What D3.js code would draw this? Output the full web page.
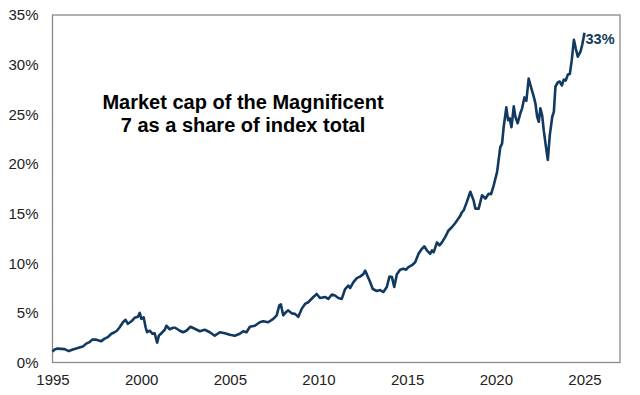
<!DOCTYPE html>
<html>
<head>
<meta charset="utf-8">
<script src="https://cdn.jsdelivr.net/npm/d3@7"></script>
<style>
  html, body { margin: 0; padding: 0; background: #fff; }
  svg { display: block; }
</style>
</head>
<body>
<svg id="chart" width="640" height="395"></svg>
<script>
// ---- Data ----
const years = [
  1995.0, 1995.11, 1995.3, 1995.68, 1995.92, 1996.15, 1996.43, 1996.71, 1996.9, 1997.09,
  1997.24, 1997.47, 1997.75, 1997.94, 1998.12, 1998.32, 1998.5, 1998.63, 1998.79, 1998.97,
  1999.12, 1999.25, 1999.45, 1999.63, 1999.82, 1999.92, 2000.01, 2000.14, 2000.25, 2000.33,
  2000.48, 2000.63, 2000.76, 2000.9, 2001.0, 2001.14, 2001.33, 2001.42, 2001.61, 2001.8,
  2001.92, 2002.18, 2002.36, 2002.55, 2002.78, 2003.02, 2003.31, 2003.59, 2003.87, 2004.15,
  2004.44, 2004.72, 2005.0, 2005.28, 2005.56, 2005.75, 2005.94, 2006.13, 2006.41, 2006.69,
  2006.88, 2007.16, 2007.45, 2007.64, 2007.79, 2007.88, 2008.01, 2008.16, 2008.29, 2008.49,
  2008.67, 2008.86, 2009.05, 2009.24, 2009.42, 2009.71, 2009.9, 2010.08, 2010.37, 2010.55,
  2010.75, 2010.93, 2011.12, 2011.31, 2011.5, 2011.68, 2011.78, 2011.97, 2012.16, 2012.34,
  2012.53, 2012.63, 2012.72, 2012.91, 2013.06, 2013.29, 2013.47, 2013.66, 2013.85, 2014.0,
  2014.14, 2014.27, 2014.42, 2014.6, 2014.79, 2014.94, 2015.07, 2015.27, 2015.45, 2015.64,
  2015.83, 2015.96, 2016.11, 2016.3, 2016.4, 2016.49, 2016.68, 2016.82, 2016.96, 2017.15,
  2017.33, 2017.53, 2017.71, 2017.81, 2017.95, 2018.09, 2018.18, 2018.37, 2018.56, 2018.75,
  2018.84, 2019.03, 2019.22, 2019.41, 2019.59, 2019.73, 2019.88, 2020.07, 2020.25, 2020.35,
  2020.44, 2020.59, 2020.69, 2020.78, 2020.88, 2021.01, 2021.1, 2021.23, 2021.38, 2021.48,
  2021.61, 2021.72, 2021.85, 2021.95, 2022.05, 2022.14, 2022.23, 2022.33, 2022.42, 2022.51,
  2022.61, 2022.7, 2022.8, 2022.93, 2023.04, 2023.18, 2023.27, 2023.36, 2023.49, 2023.6,
  2023.72, 2023.83, 2023.94, 2024.06, 2024.17, 2024.28, 2024.4, 2024.51, 2024.62, 2024.77,
  2024.87, 2025.0
];
const shares = [
  1.1, 1.3, 1.4, 1.35, 1.15, 1.3, 1.45, 1.6, 1.9, 2.05,
  2.3, 2.3, 2.15, 2.4, 2.55, 2.9, 3.05, 3.2, 3.55, 4.05,
  4.3, 3.9, 4.15, 4.5, 4.6, 5.0, 4.4, 4.55, 3.55, 3.05,
  3.2, 2.9, 2.95, 2.0, 2.7, 2.95, 3.3, 3.7, 3.35, 3.5,
  3.5, 3.2, 3.05, 3.2, 3.6, 3.4, 3.15, 3.3, 3.05, 2.7,
  3.05, 2.95, 2.8, 2.7, 2.9, 3.15, 3.05, 3.6, 3.7, 4.05,
  4.15, 4.05, 4.4, 4.75, 5.75, 5.85, 4.75, 5.07, 5.25, 4.95,
  4.9, 4.6, 5.4, 5.9, 6.07, 6.6, 6.9, 6.5, 6.6, 6.4,
  6.85, 6.75, 6.5, 6.4, 7.4, 7.75, 7.5, 8.1, 8.5, 8.65,
  8.9, 9.25, 8.9, 8.1, 7.4, 7.2, 7.3, 7.1, 7.6, 8.65,
  8.6, 7.6, 8.9, 9.35, 9.45, 9.35, 9.6, 9.8, 10.1, 10.95,
  11.45, 11.7, 11.3, 10.95, 11.3, 11.1, 12.1, 11.8, 12.1, 12.65,
  13.3, 13.65, 14.05, 14.3, 14.65, 15.15, 15.3, 16.2, 17.2, 16.3,
  15.5, 15.5, 16.85, 16.5, 17.0, 16.95, 17.85, 19.2, 21.7, 22.05,
  23.7, 25.7, 24.4, 24.6, 23.7, 25.8, 24.75, 24.1, 25.1, 25.6,
  26.7, 26.35, 28.6, 27.95, 27.3, 26.75, 26.1, 24.75, 24.25, 25.6,
  24.9, 23.4, 22.05, 20.4, 22.9, 24.75, 25.25, 27.8, 28.2, 28.3,
  27.9, 28.5, 28.4, 29.0, 29.05, 30.45, 32.5, 31.6, 30.8, 31.3,
  32.0, 33.2
];
const xTickYears = [1995, 2000, 2005, 2010, 2015, 2020, 2025];
const yTickValues = [0, 5, 10, 15, 20, 25, 30, 35];
const titleLines = ["Market cap of the Magnificent", "7 as a share of index total"];
const endLabel = "33%";

// ---- Layout ----
const svg = d3.select("#chart");
const margin = { left: 52.5, right: 20, top: 15, bottom: 32.5 };
const W = 640, H = 395;
const plotW = W - margin.left - margin.right;
const plotH = H - margin.top - margin.bottom;
const navy = "#123a60";

const x = d3.scaleLinear().domain([1995, 2027]).range([margin.left, margin.left + plotW]);
const y = d3.scaleLinear().domain([0, 35]).range([margin.top + plotH, margin.top]);

// Frame
svg.append("rect")
  .attr("x", margin.left).attr("y", margin.top)
  .attr("width", plotW).attr("height", plotH)
  .attr("fill", "none").attr("stroke", "#8a8a8a").attr("stroke-width", 1.3);

// Y axis
const yAxis = d3.axisLeft(y).tickValues(yTickValues).tickSize(0).tickPadding(14)
  .tickFormat(d => d + "%");
const gy = svg.append("g").attr("transform", `translate(${margin.left},0)`).call(yAxis);
gy.select(".domain").remove();
gy.selectAll("text").attr("font-family", "Liberation Sans, Arial, sans-serif")
  .attr("font-size", 15).attr("fill", "#222");

// X axis
const xAxis = d3.axisBottom(x).tickValues(xTickYears).tickSize(0).tickPadding(12)
  .tickFormat(d3.format("d"));
const gx = svg.append("g").attr("transform", `translate(0,${margin.top + plotH})`).call(xAxis);
gx.select(".domain").remove();
gx.selectAll("text").attr("font-family", "Liberation Sans, Arial, sans-serif")
  .attr("font-size", 15).attr("fill", "#222");

// Line
const data = years.map((yr, i) => ({ yr, v: shares[i] }));
const line = d3.line().x(d => x(d.yr)).y(d => y(d.v)).curve(d3.curveLinear);
svg.append("path").datum(data)
  .attr("d", line)
  .attr("fill", "none")
  .attr("stroke", navy)
  .attr("stroke-width", 2.6)
  .attr("stroke-linejoin", "round");

// End label
const last = data[data.length - 1];
svg.append("text")
  .attr("x", x(last.yr) + 1)
  .attr("y", y(last.v) + 11)
  .attr("font-family", "Liberation Sans, Arial, sans-serif")
  .attr("font-size", 14.5).attr("font-weight", "bold")
  .attr("fill", navy)
  .text(endLabel);

// Title
svg.append("text")
  .attr("x", 243).attr("y", 109)
  .attr("text-anchor", "middle")
  .attr("font-family", "Liberation Sans, Arial, sans-serif")
  .attr("font-size", 20).attr("font-weight", "bold").attr("fill", "#000")
  .selectAll("tspan").data(titleLines).join("tspan")
  .attr("x", 243).attr("dy", (d, i) => i === 0 ? 0 : 23)
  .text(d => d);
</script>
</body>
</html>
